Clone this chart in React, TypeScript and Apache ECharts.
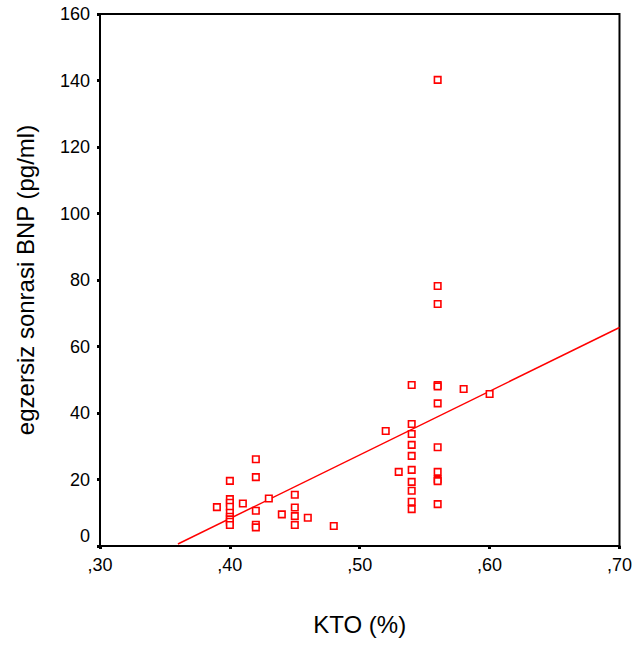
import React, { useEffect, useRef } from "react";
import * as echarts from "echarts";

// KTO (%) values with egzersiz sonrasi BNP (pg/ml) readings
const ktoValues: number[] = [
  0.39,
  0.40, 0.40, 0.40, 0.40, 0.40, 0.40, 0.40, 0.40, 0.40,
  0.41,
  0.42, 0.42, 0.42, 0.42, 0.42,
  0.43,
  0.44,
  0.45, 0.45, 0.45, 0.45,
  0.46,
  0.48,
  0.52,
  0.53,
  0.54, 0.54, 0.54, 0.54, 0.54, 0.54, 0.54, 0.54, 0.54, 0.54,
  0.56, 0.56, 0.56, 0.56, 0.56, 0.56, 0.56, 0.56, 0.56, 0.56, 0.56,
  0.58,
  0.60,
];
const bnpValues: number[] = [
  11.7,
  19.6, 14.1, 13.0, 11.8, 10.0, 8.8, 8.0, 7.3, 6.3,
  12.8,
  26.1, 20.7, 10.6, 6.4, 5.6,
  14.3,
  9.5,
  15.4, 11.6, 9.0, 6.3,
  8.5,
  6.0,
  34.6,
  22.3,
  48.4, 36.7, 33.7, 30.4, 27.1, 22.9, 19.3, 16.6, 13.3, 11.1,
  140.2, 78.2, 72.8, 48.4, 48.0, 42.9, 29.7, 22.3, 20.0, 19.5, 12.6,
  47.2,
  45.7,
];
// Fit line endpoints
const fitX: number[] = [0.36, 0.70];
const fitY: number[] = [0.6, 65.7];

const xTicks = { min: 0.3, max: 0.7, interval: 0.1 };
const yTicks = { min: 0, max: 160, interval: 20 };

export default function App() {
  const ref = useRef<HTMLDivElement>(null);
  useEffect(() => {
    if (!ref.current) return;
    const chart = echarts.init(ref.current, null, { renderer: "svg" });
    const font = "'Liberation Sans', Arial, sans-serif";
    chart.setOption({
      animation: false,
      backgroundColor: "#ffffff",
      grid: {
        left: 100,
        right: 14,
        top: 14,
        bottom: 102,
        show: true,
        borderColor: "#000",
        borderWidth: 2,
      },
      xAxis: {
        type: "value",
        min: xTicks.min,
        max: xTicks.max,
        interval: xTicks.interval,
        name: "KTO (%)",
        nameLocation: "middle",
        nameGap: 66,
        nameTextStyle: { fontFamily: font, fontSize: 24, color: "#000" },
        axisLine: { show: true, onZero: false, lineStyle: { color: "#000", width: 2 } },
        axisTick: { show: true, length: 3, lineStyle: { color: "#000", width: 3 } },
        axisLabel: {
          margin: 10,
          fontFamily: font,
          fontSize: 18,
          color: "#000",
          formatter: (v: number) => "," + String(Math.round(v * 100)),
        },
        splitLine: { show: false },
      },
      yAxis: {
        type: "value",
        min: yTicks.min,
        max: yTicks.max,
        interval: yTicks.interval,
        name: "egzersiz sonrasi BNP (pg/ml)",
        nameLocation: "middle",
        nameGap: 63,
        nameTextStyle: { fontFamily: font, fontSize: 24, color: "#000" },
        axisLine: { show: true, lineStyle: { color: "#000", width: 2 } },
        axisTick: { show: true, length: 3, lineStyle: { color: "#000", width: 3 } },
        axisLabel: {
          margin: 10,
          fontFamily: font,
          fontSize: 18,
          color: "#000",
          lineHeight: 20,
          formatter: (v: number) => (v === 0 ? "0\n" : String(v)),
        },
        splitLine: { show: false },
      },
      series: [
        {
          type: "scatter",
          symbol: "rect",
          symbolSize: 6.5,
          data: ktoValues.map((x, i) => [x, bnpValues[i]]),
          itemStyle: { color: "#ffffff", borderColor: "#ff0000", borderWidth: 1.6, opacity: 1 },
          z: 3,
        },
        {
          type: "line",
          data: fitX.map((x, i) => [x, fitY[i]]),
          symbol: "none",
          lineStyle: { color: "#ff0000", width: 1.5 },
          z: 2,
        },
      ],
    });
    return () => chart.dispose();
  }, []);
  return (
    <div
      ref={ref}
      style={{ position: "fixed", left: 0, top: 0, width: 635, height: 648 }}
    />
  );
}
